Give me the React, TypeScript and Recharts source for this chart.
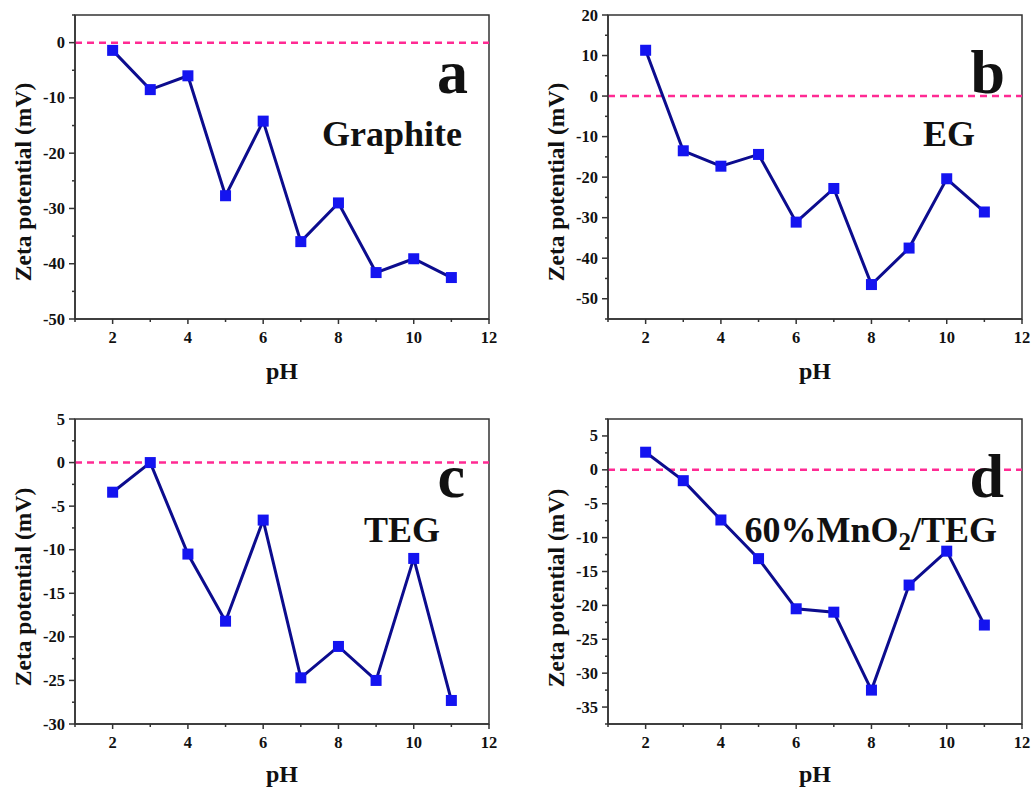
import React from "react";
import { LineChart, Line, XAxis, YAxis, ReferenceLine, ReferenceArea } from "recharts";

// pH values measured for every sample
const phValues = [2, 3, 4, 5, 6, 7, 8, 9, 10, 11];

// zeta potential (mV)
const graphiteZeta = [-1.4, -8.5, -6.0, -27.7, -14.2, -36.0, -29.0, -41.6, -39.1, -42.5];
const egZeta = [11.3, -13.5, -17.3, -14.4, -31.1, -22.8, -46.5, -37.5, -20.4, -28.6];
const tegZeta = [-3.4, 0, -10.5, -18.2, -6.6, -24.7, -21.1, -25.0, -11.0, -27.3];
const mnTegZeta = [2.6, -1.6, -7.4, -13.1, -20.5, -21.0, -32.5, -17.0, -12.0, -22.9];

// axis ticks (major + minor)
const xTicks = [1, 2, 3, 4, 5, 6, 7, 8, 9, 10, 11, 12];
const yTicksA = [5, 0, -5, -10, -15, -20, -25, -30, -35, -40, -45, -50];
const yTicksB = [20, 15, 10, 5, 0, -5, -10, -15, -20, -25, -30, -35, -40, -45, -50, -55];
const yTicksC = [5, 2.5, 0, -2.5, -5, -7.5, -10, -12.5, -15, -17.5, -20, -22.5, -25, -27.5, -30];
const yTicksD = [7.5, 5, 2.5, 0, -2.5, -5, -7.5, -10, -12.5, -15, -17.5, -20, -22.5, -25, -27.5, -30, -32.5, -35, -37.5];

const FONT = "'Liberation Serif', 'Times New Roman', serif";
const LINE_COLOR = "#0c0c8e";
const MARKER_COLOR = "#1414f0";
const ZERO_COLOR = "#ff2a93";
const FRAME = "#333";

function isMajor(v: number, step: number) {
  return Math.abs(v % step) < 1e-6;
}

function XTick(props: any) {
  const { x, y, payload } = props;
  const major = isMajor(payload.value, 2);
  return (
    <g>
      <line x1={x} x2={x} y1={y} y2={y + (major ? 5 : 3)} stroke={FRAME} strokeWidth={1.5} />
      {major && (
        <text x={x} y={y + 24} textAnchor="middle" fontFamily={FONT} fontWeight="bold" fontSize={16.5} fill="#111">
          {payload.value}
        </text>
      )}
    </g>
  );
}

function makeYTick(step: number) {
  return function YTick(props: any) {
    const { x, y, payload } = props;
    const major = isMajor(payload.value, step);
    return (
      <g>
        <line x1={x} x2={x - (major ? 6 : 3)} y1={y} y2={y} stroke={FRAME} strokeWidth={1.5} />
        {major && (
          <text x={x - 10} y={y + 5.5} textAnchor="end" fontFamily={FONT} fontWeight="bold" fontSize={16.5} fill="#111">
            {payload.value}
          </text>
        )}
      </g>
    );
  };
}

function SquareDot(props: any) {
  const { cx, cy, index } = props;
  if (cx == null || cy == null) return null;
  return <rect key={index} x={cx - 5.5} y={cy - 5.5} width={11} height={11} fill={MARKER_COLOR} />;
}

interface PanelProps {
  left: number;
  top: number;
  height: number;
  plot: { top: number; right: number; bottom: number; left: number };
  values: number[];
  yDomain: [number, number];
  yTicks: number[];
  yStep: number;
  yLabelX: number;
  yLabelY: number;
  phY: number;
  letter: string;
  letterX: number;
  letterY: number;
  name: React.ReactNode;
  nameX: number;
  nameY: number;
}

function Panel(p: PanelProps) {
  const width = 517;
  const data = phValues.map((ph, i) => ({ ph, zeta: p.values[i] }));
  const plotCenter = p.plot.left + (width - p.plot.left - p.plot.right) / 2;
  // axes need 1px of room or recharts skips drawing them
  const margin = { top: p.plot.top, right: p.plot.right, bottom: p.plot.bottom - 1, left: p.plot.left - 1 };
  return (
    <div style={{ position: "absolute", left: p.left, top: p.top, width, height: p.height }}>
      <LineChart width={width} height={p.height} data={data} margin={margin}>
        <XAxis
          dataKey="ph"
          type="number"
          domain={[1, 12]}
          ticks={xTicks}
          interval={0}
          height={1}
          tickSize={0}
          tickMargin={0}
          tickLine={false}
          axisLine={{ stroke: FRAME, strokeWidth: 1.5 }}
          tick={<XTick />}
        />
        <YAxis
          type="number"
          domain={p.yDomain}
          ticks={p.yTicks}
          interval={0}
          width={1}
          tickSize={0}
          tickMargin={0}
          tickLine={false}
          axisLine={{ stroke: FRAME, strokeWidth: 1.5 }}
          tick={makeYTick(p.yStep)}
        />
        <ReferenceArea
          x1={1}
          x2={12}
          y1={p.yDomain[0]}
          y2={p.yDomain[1]}
          fill="none"
          fillOpacity={0}
          stroke={FRAME}
          strokeWidth={1.5}
          ifOverflow="visible"
        />
        <ReferenceLine y={0} stroke={ZERO_COLOR} strokeWidth={2.5} strokeDasharray="7 5" />
        <Line
          dataKey="zeta"
          type="linear"
          stroke={LINE_COLOR}
          strokeWidth={3}
          dot={<SquareDot />}
          activeDot={false}
          isAnimationActive={false}
        />
      </LineChart>
      <svg
        width={width}
        height={p.height}
        style={{ position: "absolute", left: 0, top: 0, pointerEvents: "none" }}
        fontFamily={FONT}
        fontWeight="bold"
        fill="#111"
      >
        <text
          transform={`translate(${p.yLabelX}, ${p.yLabelY}) rotate(-90)`}
          textAnchor="middle"
          fontSize={23.5}
        >
          Zeta potential (mV)
        </text>
        <text x={plotCenter} y={p.phY} textAnchor="middle" fontSize={24}>
          pH
        </text>
        <text x={p.letterX} y={p.letterY} textAnchor="end" fontSize={62}>
          {p.letter}
        </text>
        <text x={p.nameX} y={p.nameY} textAnchor="end" fontSize={36}>
          {p.name}
        </text>
      </svg>
    </div>
  );
}

export default function App() {
  return (
    <div style={{ position: "absolute", left: 0, top: 0, width: 1034, height: 791, background: "#fff" }}>
      <Panel
        left={0}
        top={0}
        height={395}
        plot={{ top: 15, right: 28, bottom: 76, left: 75 }}
        values={graphiteZeta}
        yDomain={[-50, 5]}
        yTicks={yTicksA}
        yStep={10}
        yLabelX={31}
        yLabelY={182}
        phY={379}
        letter="a"
        letterX={468}
        letterY={93}
        name="Graphite"
        nameX={462}
        nameY={146}
      />
      <Panel
        left={517}
        top={0}
        height={395}
        plot={{ top: 15, right: 12, bottom: 76, left: 91 }}
        values={egZeta}
        yDomain={[-55, 20]}
        yTicks={yTicksB}
        yStep={10}
        yLabelX={47}
        yLabelY={182}
        phY={379}
        letter="b"
        letterX={488}
        letterY={93}
        name="EG"
        nameX={458}
        nameY={146}
      />
      <Panel
        left={0}
        top={395}
        height={396}
        plot={{ top: 24, right: 28, bottom: 67, left: 75 }}
        values={tegZeta}
        yDomain={[-30, 5]}
        yTicks={yTicksC}
        yStep={5}
        yLabelX={31}
        yLabelY={192}
        phY={387}
        letter="c"
        letterX={465}
        letterY={102}
        name="TEG"
        nameX={440}
        nameY={147}
      />
      <Panel
        left={517}
        top={395}
        height={396}
        plot={{ top: 24, right: 12, bottom: 67, left: 91 }}
        values={mnTegZeta}
        yDomain={[-37.5, 7.5]}
        yTicks={yTicksD}
        yStep={5}
        yLabelX={47}
        yLabelY={193}
        phY={387}
        letter="d"
        letterX={487}
        letterY={102}
        name={
          <>
            60%MnO
            <tspan fontSize={25} dy={8}>
              2
            </tspan>
            <tspan dy={-8}>/TEG</tspan>
          </>
        }
        nameX={480}
        nameY={147}
      />
    </div>
  );
}
